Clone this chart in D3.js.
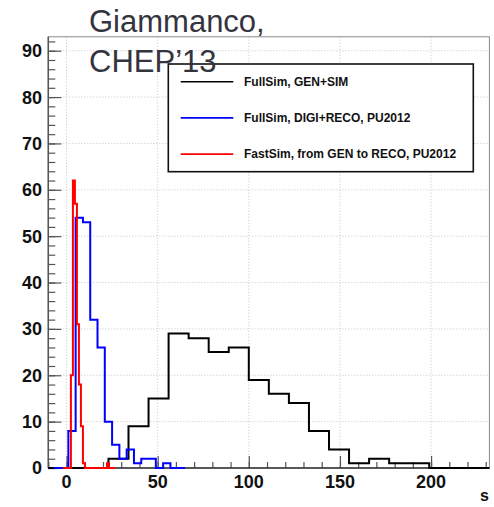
<!DOCTYPE html>
<html>
<head>
<meta charset="utf-8">
<script src="https://cdn.jsdelivr.net/npm/d3@7"></script>
<style>
  html, body { margin: 0; padding: 0; background: #fff; }
  svg { display: block; }
  text { font-family: "Liberation Sans", Arial, Helvetica, sans-serif; }
</style>
</head>
<body>
<svg id="chart" width="494" height="507"></svg>
<script>
// Histogram binning: first lower edge, bin width, bin contents
const fullSimGenSimStart = -10;
const fullSimGenSimWidth = 11;
const fullSimGenSimCounts = [0, 0, 0, 2, 9, 15, 29, 28, 25, 26, 19, 16, 14, 8, 4, 1, 2, 1, 1, 0, 0, 0];

const fullSimDigiRecoStart = -7;
const fullSimDigiRecoWidth = 4;
const fullSimDigiRecoCounts = [0, 0, 8, 54, 53, 32, 26, 10, 5, 2, 4, 1, 2, 2, 0, 1, 0, 0];

const fastSimStart = -2;
const fastSimWidth = 1.1;
const fastSimCounts = [0, 0, 0, 0, 20, 62, 57, 31, 18, 9, 1, 0, 0, 0, 0, 0, 0, 0, 0, 0, 0, 0, 1, 0, 0, 0];

const seriesNames = ["FullSim, GEN+SIM", "FullSim, DIGI+RECO, PU2012", "FastSim, from GEN to RECO, PU2012"];
const seriesColors = ["#000000", "#0000ff", "#ff0000"];

const xTickValues = [0, 50, 100, 150, 200];
const yTickValues = [0, 10, 20, 30, 40, 50, 60, 70, 80, 90];
const xDomain = [-10, 232];
const yDomain = [0, 93];
const xTitle = "s";
const titleLines = ["Giammanco,", "CHEP\u201913"];

const svg = d3.select("#chart");
const frame = { left: 48.3, right: 489.4, top: 36.8, bottom: 468 };

const x = d3.scaleLinear().domain(xDomain).range([frame.left, frame.right]);
const y = d3.scaleLinear().domain(yDomain).range([frame.bottom, frame.top]);

svg.append("rect").attr("width", 494).attr("height", 507).attr("fill", "#fff");

// grid
const grid = svg.append("g").attr("stroke", "#b8b8b8").attr("stroke-width", 0.8)
  .attr("stroke-dasharray", "1,2");
grid.selectAll("line.gx").data(xTickValues).join("line")
  .attr("x1", d => x(d)).attr("x2", d => x(d))
  .attr("y1", frame.top).attr("y2", frame.bottom);
grid.selectAll("line.gy").data(yTickValues.filter(d => d > 0)).join("line")
  .attr("x1", frame.left).attr("x2", frame.right)
  .attr("y1", d => y(d)).attr("y2", d => y(d));

// frame
svg.append("rect")
  .attr("x", frame.left).attr("y", frame.top)
  .attr("width", frame.right - frame.left).attr("height", frame.bottom - frame.top)
  .attr("fill", "none").attr("stroke", "#8a8a8a").attr("stroke-width", 1);

// axes with inward ticks
const yAxisMinor = d3.axisRight(y).tickValues(d3.range(0, 93, 2)).tickSize(7).tickFormat("");
const yAxisMajor = d3.axisRight(y).tickValues(yTickValues).tickSize(13).tickFormat("");
const xAxisMinor = d3.axisTop(x).tickValues(d3.range(-10, 233, 10)).tickSize(6).tickFormat("");
const xAxisMajor = d3.axisTop(x).tickValues(xTickValues).tickSize(12).tickFormat("");

function styleAxis(g) {
  g.select(".domain").remove();
  g.selectAll(".tick line").attr("stroke", "#555").attr("stroke-width", 1.2);
}
svg.append("g").attr("transform", `translate(${frame.left},0)`).call(yAxisMinor).call(styleAxis);
svg.append("g").attr("transform", `translate(${frame.left},0)`).call(yAxisMajor).call(styleAxis);
svg.append("g").attr("transform", `translate(0,${frame.bottom})`).call(xAxisMinor).call(styleAxis);
svg.append("g").attr("transform", `translate(0,${frame.bottom})`).call(xAxisMajor).call(styleAxis);

// axis lines
svg.append("line").attr("x1", frame.left).attr("x2", frame.left)
  .attr("y1", frame.top).attr("y2", frame.bottom).attr("stroke", "#555").attr("stroke-width", 1.5);
svg.append("line").attr("x1", frame.left).attr("x2", frame.right)
  .attr("y1", frame.bottom).attr("y2", frame.bottom).attr("stroke", "#333").attr("stroke-width", 1.5);

// tick labels
svg.append("g").selectAll("text").data(yTickValues).join("text")
  .attr("x", 42).attr("y", d => y(d)).attr("dy", "0.36em")
  .attr("text-anchor", "end").attr("font-size", 18).attr("font-weight", "bold")
  .attr("fill", "#111").text(d => d);
svg.append("g").selectAll("text").data(xTickValues).join("text")
  .attr("x", d => x(d)).attr("y", 488)
  .attr("text-anchor", "middle").attr("font-size", 18).attr("font-weight", "bold")
  .attr("fill", "#111").text(d => d);
svg.append("text").attr("x", 489).attr("y", 501).attr("text-anchor", "end")
  .attr("font-size", 16).attr("font-weight", "bold").attr("fill", "#111").text(xTitle);

// step outline of a histogram
function stepPoints(start, width, counts) {
  const pts = [[start, 0]];
  counts.forEach((c, i) => {
    pts.push([start + i * width, c]);
    pts.push([start + (i + 1) * width, c]);
  });
  pts.push([start + counts.length * width, 0]);
  return pts;
}
const line = d3.line().x(d => x(d[0])).y(d => y(d[1]));

const histos = [
  [fullSimGenSimStart, fullSimGenSimWidth, fullSimGenSimCounts],
  [fullSimDigiRecoStart, fullSimDigiRecoWidth, fullSimDigiRecoCounts],
  [fastSimStart, fastSimWidth, fastSimCounts]
];
svg.append("g").selectAll("path").data(histos).join("path")
  .attr("d", d => line(stepPoints(d[0], d[1], d[2])))
  .attr("fill", "none")
  .attr("stroke", (d, i) => seriesColors[i])
  .attr("stroke-width", 2)
  .attr("stroke-linejoin", "miter");

// legend
const legend = svg.append("g");
legend.append("rect").attr("x", 168.3).attr("y", 64).attr("width", 305).attr("height", 107.7)
  .attr("fill", "#fff").attr("stroke", "#111").attr("stroke-width", 1.6);
const legendRows = legend.selectAll("g").data(seriesNames).join("g")
  .attr("transform", (d, i) => `translate(0,${81.7 + i * 36.2})`);
legendRows.append("line").attr("x1", 180.7).attr("x2", 233.3)
  .attr("stroke", (d, i) => seriesColors[i]).attr("stroke-width", 1.6);
legendRows.append("text").attr("x", 244).attr("dy", "0.36em")
  .attr("font-size", 12).attr("font-weight", "bold").attr("fill", "#111").text(d => d);

// title, drawn last so it sits over the legend box
svg.append("g").selectAll("text").data(titleLines).join("text")
  .attr("x", 89).attr("y", (d, i) => 31.7 + i * 40)
  .attr("font-size", 31).attr("fill", "#34343e").text(d => d);
</script>
</body>
</html>
